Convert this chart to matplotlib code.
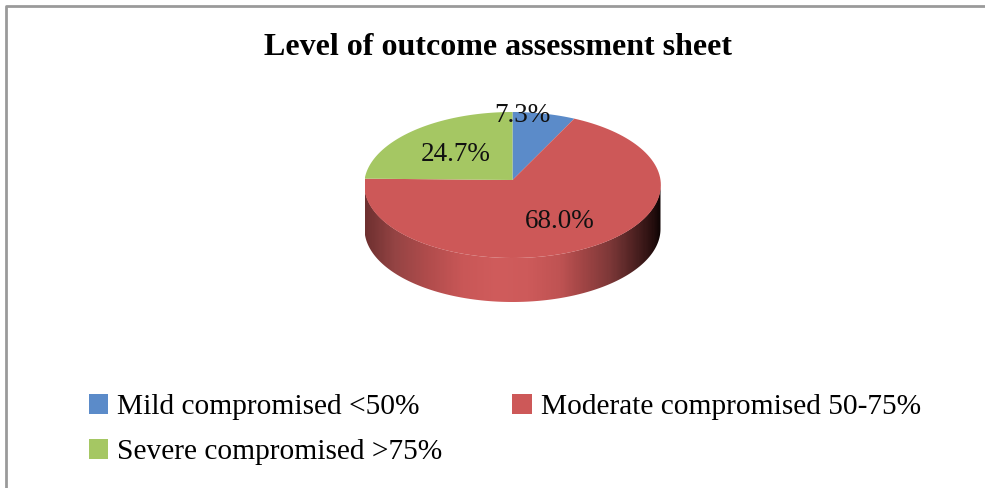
import numpy as np
import matplotlib
matplotlib.use('Agg')
import matplotlib.pyplot as plt
from matplotlib.colors import LinearSegmentedColormap
from matplotlib.patches import PathPatch
from matplotlib.path import Path
from matplotlib.lines import Line2D

plt.rcParams['font.family'] = ['Liberation Serif', 'DejaVu Serif']

# data
categories = ['Mild compromised <50%', 'Moderate compromised 50-75%', 'Severe compromised >75%']
values = [7.3, 68.0, 24.7]
colors = ['#5B8BC9', '#CD5858', '#A5C763']
title = 'Level of outcome assessment sheet'

W, H = 985, 488
cx, cy = 512.5, 180       # where the slices meet
rx, up, down = 148, 68, 78  # the far half of the disc is squeezed by the perspective
depth = 44

# colours along the side of the pie, left to right
side_stops = [(0.0, '#6E3030'), (0.1, '#954444'), (0.21, '#B04C4C'), (0.33, '#C95757'),
              (0.45, '#D05C5C'), (0.55, '#CD5A5A'), (0.66, '#BF5353'), (0.72, '#A84848'),
              (0.83, '#7D3838'), (0.92, '#4A2020'), (0.97, '#2A1010'), (1.0, '#100505')]
side_cmap = LinearSegmentedColormap.from_list('side', side_stops)


def project(theta):
    # theta clockwise from 12 o'clock on the flat disc, result in pixels from the centre
    k = (down - up) / (down + up)
    ry0 = 2 * up * down / (up + down)
    u = np.sin(theta)
    v = np.cos(theta)
    return rx * u / (1 + k * v), ry0 * v / (1 + k * v)


fig = plt.figure(figsize=(W / 100, H / 100), dpi=100)

# frame, only top and left are in the picture
bg = fig.add_axes([0, 0, 1, 1])
bg.set_xlim(0, W)
bg.set_ylim(H, 0)
bg.axis('off')
bg.add_line(Line2D([6, 6, W], [H, 6, 6], color='#9A9A9A', lw=2))
bg.text(498, 55, title, fontsize=23, fontweight='bold', ha='center', va='baseline', color='black')

ax = fig.add_axes([(cx - rx) / W, (H - cy - down - depth) / H, 2 * rx / W, (up + down + depth) / H])
ax.axis('off')

# side wall, the lower half of the outline pushed down by the depth
mid = (down - up) / 2
t = np.linspace(np.pi, 2 * np.pi, 200)
xs = rx * np.cos(t)
ys = (up + down) / 2 * np.sin(t) - mid
verts = np.vstack([np.column_stack([xs, ys]), np.column_stack([xs[::-1], ys[::-1] - depth])])
side_path = Path(np.vstack([verts, verts[0]]), closed=True)
clip = PathPatch(side_path, transform=ax.transData, fc='none', ec='none')
ax.add_patch(clip)
im = ax.imshow(np.linspace(0, 1, 296).reshape(1, -1), cmap=side_cmap, aspect='auto',
               extent=[-rx, rx, -down - depth, up], zorder=0.5)
im.set_clip_path(clip)

# slices
handles = []
edges = np.cumsum([0] + values) / sum(values) * 2 * np.pi
for i, val in enumerate(values):
    th = np.linspace(edges[i], edges[i + 1], 120)
    px, py = project(th)
    handles.append(ax.fill(np.r_[0, px], np.r_[0, py], color=colors[i], lw=0, zorder=1)[0])
ax.set_xlim(-rx, rx)
ax.set_ylim(-down - depth, up)

# data labels
label_px = [(522, 122), (560, 228), (456, 161)]
for val, (lx, ly) in zip(values, label_px):
    ax.text(lx - cx, cy - ly, '%.1f%%' % val, fontsize=19.5, color='#111111', ha='center',
            va='baseline', zorder=3, clip_on=False)

# legend fills by column, so Severe goes second
order = [0, 2, 1]
fig.legend([handles[i] for i in order], [categories[i] for i in order], ncol=2, frameon=False,
           fontsize=21.2, loc='upper left', bbox_to_anchor=(89 / W, 1 - 394 / H), borderpad=0, borderaxespad=0,
           handlelength=0.66, handleheight=0.66, handletextpad=0.3, columnspacing=2.37, labelspacing=0.63)

fig.savefig('out.png', dpi=100)
